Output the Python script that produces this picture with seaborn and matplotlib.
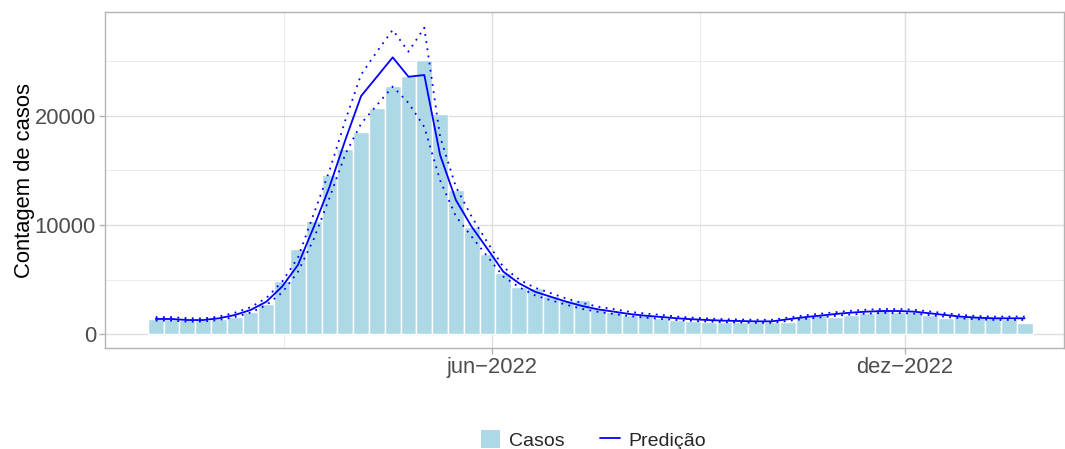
import numpy as np
import pandas as pd
import matplotlib
matplotlib.use("Agg")
import matplotlib.pyplot as plt
import matplotlib.dates as mdates
from matplotlib.patches import Patch
from matplotlib.lines import Line2D
import seaborn as sns

# ---- data ----
start_week = "2022-01-03"
casos = [1350, 1350, 1250, 1250, 1400, 1590, 2020, 2750, 4860, 7800,
         10350, 14600, 17000, 18500, 20700, 22750, 23650, 25130, 20200, 13200,
         9850, 7350, 5580, 4340, 4200, 3490, 3120, 3120, 2420, 2050,
         1740, 1740, 1450, 1280, 1220, 1130, 1130, 1070, 1070, 1130,
         1130, 1590, 1740, 1530, 1740, 1900, 2260, 2050, 2050, 1740,
         1500, 1650, 1650, 1440, 1350, 1040]
predicao = [1380, 1380, 1280, 1280, 1440, 1740, 2200, 2960, 4350, 6330,
            9800, 13500, 17800, 21830, 23600, 25380, 23600, 23760, 16420, 12290,
            9840, 7800, 5720, 4650, 3880, 3420, 2960, 2570, 2260, 2050,
            1830, 1680, 1560, 1440, 1350, 1280, 1220, 1190, 1160, 1160,
            1350, 1530, 1680, 1830, 1960, 2050, 2110, 2110, 2050, 1900,
            1740, 1590, 1500, 1440, 1440, 1440]
superior = [1550, 1550, 1450, 1420, 1600, 1950, 2450, 3300, 4800, 7000,
            11000, 15000, 19600, 23800, 25900, 27900, 25900, 28100, 18100, 13500,
            10760, 8400, 6150, 5000, 4250, 3750, 3250, 2850, 2500, 2280,
            2030, 1880, 1750, 1600, 1500, 1420, 1360, 1330, 1300, 1300,
            1500, 1700, 1850, 2000, 2130, 2230, 2290, 2290, 2230, 2070,
            1900, 1750, 1650, 1600, 1600, 1600]
inferior = [1230, 1230, 1130, 1150, 1290, 1550, 1960, 2650, 3800, 5700,
            8700, 12500, 16500, 19300, 21000, 22700, 21200, 19000, 14100, 10800,
            8930, 7100, 5270, 4300, 3550, 3100, 2680, 2300, 2030, 1830,
            1640, 1500, 1380, 1280, 1200, 1140, 1080, 1050, 1020, 1020,
            1200, 1370, 1510, 1660, 1790, 1870, 1930, 1930, 1870, 1730,
            1580, 1430, 1350, 1290, 1290, 1290]
tick_dates = ["2022-06-01", "2022-12-01"]
tick_labels = ["jun\u22122022", "dez\u22122022"]
minor_dates = ["2022-03-01", "2022-09-01"]
y_ticks = [0, 10000, 20000]
y_minor = [5000, 15000, 25000]

# ---- build ----
dates = pd.date_range(start_week, periods=len(casos), freq="7D")
xnum = np.asarray(mdates.date2num(dates.to_pydatetime()), dtype=float)
df = pd.DataFrame({"x": xnum, "casos": np.asarray(casos, dtype=float),
                   "pred": predicao, "sup": superior, "inf": inferior})
edges = [float(v) for v in np.concatenate([xnum - 3.5, [xnum[-1] + 3.5]])]

sns.set_theme(style="white")
plt.rcParams["font.family"] = ["Liberation Sans", "DejaVu Sans"]

W, H = 1065, 449
fig = plt.figure(figsize=(W / 100, H / 100), dpi=100)
ax = fig.add_axes([105 / W, 1 - 348 / H, (1064 - 105) / W, (348 - 12) / H])

grid_major = "#DEDEDE"
ax.set_axisbelow(True)

sns.histplot(data=df, x="x", weights="casos", bins=edges, ax=ax,
             color="#ADD8E6", edgecolor="white", linewidth=1.0, alpha=1.0,
             legend=False)
sns.lineplot(data=df, x="x", y="pred", ax=ax, color="#0000FF", lw=1.3)
sns.lineplot(data=df, x="x", y="sup", ax=ax, color="#0000FF", lw=1.3,
             linestyle=(0, (1, 3)))
sns.lineplot(data=df, x="x", y="inf", ax=ax, color="#0000FF", lw=1.3,
             linestyle=(0, (1, 3)))

jun = mdates.date2num(pd.Timestamp("2022-06-01").to_pydatetime())
px_per_day = 413 / 183
ax.set_xlim(jun + (105 - 492) / px_per_day, jun + (1064 - 492) / px_per_day)
ax.set_ylim(-1284, 29540)

major_x = [mdates.date2num(pd.Timestamp(d).to_pydatetime()) for d in tick_dates]
minor_x = [mdates.date2num(pd.Timestamp(d).to_pydatetime()) for d in minor_dates]
ax.set_xticks(major_x)
ax.set_xticklabels(tick_labels)
ax.set_xticks(minor_x, minor=True)
ax.set_yticks(y_ticks)
ax.set_yticklabels([str(v) for v in y_ticks])
ax.set_yticks(y_minor, minor=True)

ax.grid(which="major", color=grid_major, linewidth=1.0)
ax.grid(which="minor", color="#E8E8E8", linewidth=0.6)

for s in ax.spines.values():
    s.set_color("#B3B3B3")
    s.set_linewidth(1.0)

ax.tick_params(axis="both", which="major", length=4, width=1.0,
               color="#B3B3B3", labelsize=15.8, labelcolor="#4D4D4D", pad=2.5,
               bottom=True, left=True)
ax.tick_params(axis="both", which="minor", length=0)

ax.set_xlabel("")
ax.set_ylabel("Contagem de casos", fontsize=15.8, color="black", labelpad=0)

handles = [Patch(facecolor="#ADD8E6", edgecolor="none"),
           Line2D([0], [0], color="#0000FF", lw=1.3)]
fig.legend(handles, ["Casos", "Predição"], loc="center",
           bbox_to_anchor=(593.5 / W, 1 - 440 / H),
           ncol=2, frameon=False, fontsize=14, handlelength=1.0,
           handleheight=1.0, columnspacing=1.85, handletextpad=0.45,
           borderpad=0.0)

fig.savefig("out.png", dpi=100)
